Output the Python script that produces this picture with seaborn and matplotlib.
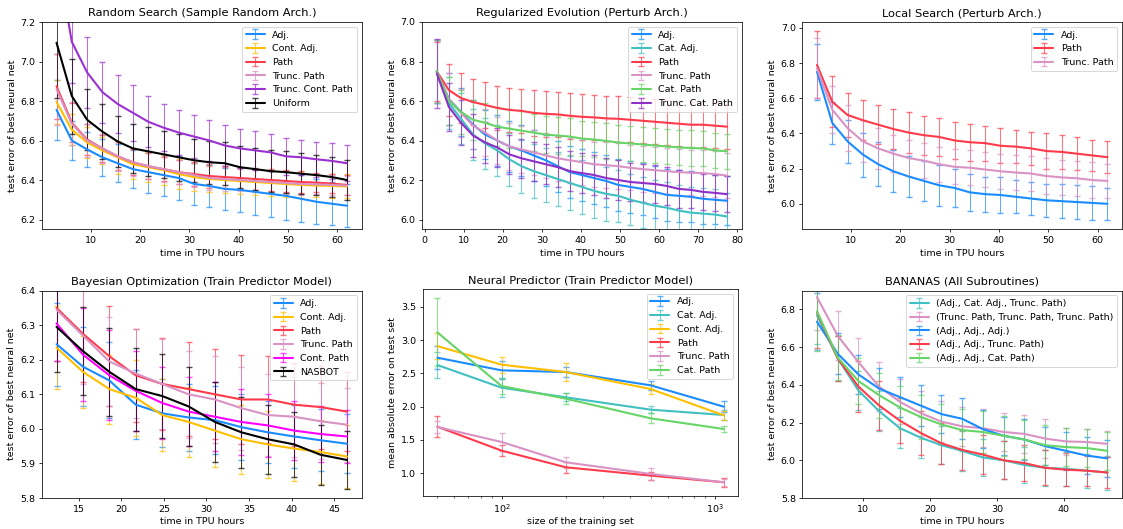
import matplotlib
matplotlib.use("Agg")
import matplotlib.pyplot as plt
import seaborn as sns

# time points (TPU hours)
x_rs = [3.1, 6.2, 9.3, 12.4, 15.5, 18.6, 21.7, 24.8, 27.9, 31.0,
        34.1, 37.2, 40.3, 43.4, 46.5, 49.6, 52.7, 55.8, 58.9, 62.0]
x_re = x_rs + [65.1, 68.2, 71.3, 74.4, 77.5]
x_bo = x_rs[3:15]
x_ban = x_rs[:15]
x_np = [50, 100, 200, 500, 1100]

# Random Search
rs_adj = [6.755, 6.60, 6.555, 6.515, 6.485, 6.455, 6.44, 6.425, 6.41, 6.38, 6.37, 6.355, 6.35, 6.34, 6.33, 6.32, 6.305, 6.29, 6.28, 6.27]
rs_adj_err = [0.15, 0.10, 0.09, 0.095, 0.095, 0.095, 0.105, 0.105, 0.11, 0.105, 0.105, 0.105, 0.11, 0.115, 0.115, 0.12, 0.12, 0.115, 0.11, 0.11]
rs_cadj = [6.795, 6.655, 6.59, 6.55, 6.515, 6.48, 6.465, 6.45, 6.43, 6.415, 6.405, 6.40, 6.395, 6.39, 6.385, 6.38, 6.375, 6.372, 6.37, 6.368]
rs_cadj_err = [0.11, 0.08, 0.08, 0.07, 0.085, 0.075, 0.075, 0.075, 0.075, 0.07, 0.065, 0.065, 0.065, 0.065, 0.065, 0.065, 0.065, 0.06, 0.06, 0.06]
rs_path = [6.875, 6.69, 6.605, 6.56, 6.52, 6.49, 6.47, 6.455, 6.44, 6.43, 6.42, 6.415, 6.41, 6.405, 6.40, 6.395, 6.39, 6.387, 6.382, 6.375]
rs_path_err = [0.165, 0.10, 0.08, 0.07, 0.07, 0.065, 0.065, 0.06, 0.06, 0.06, 0.06, 0.055, 0.055, 0.055, 0.055, 0.055, 0.055, 0.05, 0.05, 0.05]
rs_tpath = [6.86, 6.685, 6.60, 6.56, 6.52, 6.49, 6.47, 6.455, 6.44, 6.425, 6.41, 6.405, 6.40, 6.395, 6.39, 6.385, 6.38, 6.378, 6.375, 6.372]
rs_tpath_err = [0.18, 0.11, 0.085, 0.075, 0.075, 0.07, 0.065, 0.065, 0.06, 0.06, 0.06, 0.06, 0.055, 0.055, 0.055, 0.055, 0.055, 0.05, 0.05, 0.05]
rs_tcpath = [7.55, 7.10, 6.945, 6.845, 6.785, 6.74, 6.695, 6.665, 6.64, 6.62, 6.60, 6.575, 6.56, 6.55, 6.54, 6.52, 6.515, 6.505, 6.497, 6.485]
rs_tcpath_err = [0.3, 0.21, 0.18, 0.155, 0.145, 0.14, 0.13, 0.12, 0.115, 0.11, 0.105, 0.105, 0.10, 0.10, 0.095, 0.095, 0.09, 0.09, 0.09, 0.09]
rs_unif = [7.095, 6.825, 6.705, 6.645, 6.595, 6.56, 6.545, 6.53, 6.515, 6.50, 6.49, 6.485, 6.465, 6.455, 6.445, 6.44, 6.432, 6.425, 6.415, 6.40]
rs_unif_err = [0.28, 0.19, 0.155, 0.14, 0.13, 0.125, 0.125, 0.12, 0.12, 0.11, 0.11, 0.11, 0.105, 0.105, 0.105, 0.105, 0.105, 0.10, 0.10, 0.10]

# Regularized Evolution
re_adj = [6.75, 6.61, 6.545, 6.48, 6.43, 6.40, 6.37, 6.35, 6.325, 6.30, 6.27, 6.24, 6.225, 6.21, 6.195, 6.175, 6.165, 6.155, 6.14, 6.125, 6.12, 6.115, 6.105, 6.10, 6.095]
re_adj_err = [0.16, 0.13, 0.12, 0.125, 0.125, 0.13, 0.13, 0.13, 0.13, 0.13, 0.13, 0.13, 0.13, 0.13, 0.13, 0.13, 0.13, 0.13, 0.13, 0.13, 0.13, 0.13, 0.13, 0.125, 0.125]
re_cadj = [6.75, 6.59, 6.51, 6.43, 6.385, 6.35, 6.305, 6.27, 6.245, 6.225, 6.205, 6.185, 6.165, 6.145, 6.13, 6.12, 6.10, 6.085, 6.07, 6.06, 6.045, 6.035, 6.03, 6.025, 6.015]
re_cadj_err = [0.16, 0.13, 0.13, 0.13, 0.13, 0.13, 0.135, 0.135, 0.135, 0.135, 0.135, 0.135, 0.135, 0.135, 0.135, 0.13, 0.13, 0.13, 0.13, 0.13, 0.13, 0.13, 0.13, 0.13, 0.12]
re_path = [6.75, 6.655, 6.615, 6.595, 6.58, 6.565, 6.555, 6.55, 6.54, 6.535, 6.532, 6.525, 6.52, 6.517, 6.512, 6.51, 6.505, 6.50, 6.495, 6.49, 6.485, 6.48, 6.48, 6.475, 6.47]
re_path_err = [0.15, 0.13, 0.125, 0.115, 0.115, 0.11, 0.11, 0.112, 0.115, 0.115, 0.115, 0.115, 0.115, 0.115, 0.115, 0.115, 0.115, 0.115, 0.115, 0.115, 0.115, 0.115, 0.115, 0.115, 0.115]
re_tpath = [6.75, 6.61, 6.54, 6.475, 6.44, 6.40, 6.37, 6.355, 6.34, 6.325, 6.31, 6.30, 6.29, 6.28, 6.275, 6.27, 6.262, 6.255, 6.25, 6.245, 6.24, 6.237, 6.235, 6.23, 6.222]
re_tpath_err = [0.16, 0.13, 0.12, 0.12, 0.12, 0.12, 0.12, 0.12, 0.115, 0.115, 0.115, 0.115, 0.115, 0.115, 0.115, 0.115, 0.115, 0.115, 0.115, 0.115, 0.115, 0.115, 0.115, 0.115, 0.115]
re_cpath = [6.75, 6.60, 6.545, 6.505, 6.49, 6.47, 6.46, 6.45, 6.44, 6.43, 6.425, 6.42, 6.41, 6.405, 6.398, 6.39, 6.385, 6.38, 6.375, 6.37, 6.365, 6.362, 6.36, 6.35, 6.345]
re_cpath_err = [0.16, 0.12, 0.11, 0.1, 0.1, 0.1, 0.1, 0.1, 0.095, 0.095, 0.095, 0.095, 0.09, 0.09, 0.09, 0.09, 0.09, 0.09, 0.09, 0.09, 0.09, 0.09, 0.09, 0.09, 0.09]
re_tcpath = [6.74, 6.57, 6.49, 6.425, 6.39, 6.365, 6.33, 6.31, 6.295, 6.28, 6.265, 6.245, 6.235, 6.225, 6.21, 6.20, 6.19, 6.185, 6.18, 6.17, 6.155, 6.15, 6.14, 6.135, 6.128]
re_tcpath_err = [0.175, 0.12, 0.115, 0.11, 0.105, 0.1, 0.1, 0.1, 0.1, 0.1, 0.1, 0.1, 0.1, 0.1, 0.1, 0.1, 0.095, 0.095, 0.095, 0.095, 0.095, 0.09, 0.09, 0.09, 0.09]

# Local Search
ls_adj = [6.75, 6.46, 6.355, 6.28, 6.225, 6.185, 6.155, 6.13, 6.105, 6.09, 6.065, 6.055, 6.05, 6.04, 6.03, 6.02, 6.015, 6.01, 6.005, 6.0]
ls_adj_err = [0.16, 0.12, 0.123, 0.125, 0.125, 0.12, 0.118, 0.115, 0.115, 0.11, 0.105, 0.10, 0.10, 0.095, 0.095, 0.095, 0.095, 0.095, 0.095, 0.092]
ls_path = [6.79, 6.58, 6.505, 6.475, 6.45, 6.425, 6.405, 6.39, 6.38, 6.36, 6.35, 6.345, 6.33, 6.325, 6.315, 6.30, 6.295, 6.285, 6.275, 6.265]
ls_path_err = [0.19, 0.145, 0.125, 0.115, 0.11, 0.115, 0.115, 0.11, 0.11, 0.105, 0.105, 0.10, 0.10, 0.095, 0.095, 0.10, 0.095, 0.095, 0.09, 0.09]
ls_tpath = [6.77, 6.535, 6.43, 6.355, 6.315, 6.285, 6.26, 6.245, 6.225, 6.21, 6.205, 6.195, 6.185, 6.178, 6.172, 6.158, 6.15, 6.145, 6.135, 6.13]
ls_tpath_err = [0.17, 0.135, 0.13, 0.12, 0.115, 0.105, 0.1, 0.1, 0.1, 0.1, 0.1, 0.1, 0.1, 0.1, 0.1, 0.1, 0.1, 0.1, 0.1, 0.095]

# Bayesian Optimization
bo_adj = [6.245, 6.18, 6.14, 6.07, 6.045, 6.033, 6.025, 6.005, 5.99, 5.978, 5.967, 5.957]
bo_adj_err = [0.12, 0.115, 0.11, 0.1, 0.098, 0.098, 0.098, 0.095, 0.09, 0.09, 0.09, 0.085]
bo_cadj = [6.235, 6.165, 6.115, 6.09, 6.04, 6.02, 5.995, 5.97, 5.955, 5.943, 5.933, 5.92]
bo_cadj_err = [0.12, 0.105, 0.1, 0.11, 0.103, 0.1, 0.105, 0.1, 0.097, 0.095, 0.092, 0.09]
bo_path = [6.35, 6.275, 6.21, 6.155, 6.13, 6.115, 6.10, 6.085, 6.085, 6.07, 6.063, 6.05]
bo_path_err = [0.155, 0.14, 0.145, 0.135, 0.132, 0.135, 0.13, 0.13, 0.125, 0.12, 0.12, 0.115]
bo_tpath = [6.345, 6.27, 6.195, 6.16, 6.13, 6.10, 6.085, 6.06, 6.04, 6.035, 6.022, 6.012]
bo_tpath_err = [0.15, 0.14, 0.13, 0.13, 0.13, 0.125, 0.125, 0.12, 0.118, 0.115, 0.11, 0.107]
bo_cpath = [6.305, 6.215, 6.155, 6.11, 6.075, 6.05, 6.035, 6.02, 6.01, 5.995, 5.985, 5.978]
bo_cpath_err = [0.11, 0.135, 0.13, 0.115, 0.105, 0.1, 0.1, 0.095, 0.09, 0.085, 0.08, 0.077]
bo_nasbot = [6.295, 6.225, 6.165, 6.115, 6.095, 6.065, 6.02, 5.99, 5.97, 5.955, 5.925, 5.91]
bo_nasbot_err = [0.13, 0.127, 0.128, 0.12, 0.122, 0.115, 0.115, 0.103, 0.1, 0.095, 0.087, 0.083]

# Neural Predictor
np_adj = [2.735, 2.545, 2.52, 2.32, 2.0]
np_adj_err = [0.17, 0.135, 0.08, 0.065, 0.08]
np_cadj = [2.625, 2.285, 2.14, 1.955, 1.875]
np_cadj_err = [0.19, 0.14, 0.06, 0.05, 0.07]
np_contadj = [2.91, 2.63, 2.52, 2.265, 1.87]
np_contadj_err = [0.195, 0.12, 0.14, 0.075, 0.07]
np_path = [1.70, 1.34, 1.09, 0.965, 0.865]
np_path_err = [0.155, 0.08, 0.085, 0.06, 0.065]
np_tpath = [1.695, 1.47, 1.165, 0.99, 0.865]
np_tpath_err = [0.095, 0.135, 0.08, 0.09, 0.055]
np_cpath = [3.115, 2.31, 2.12, 1.825, 1.665]
np_cpath_err = [0.51, 0.12, 0.08, 0.075, 0.05]

# BANANAS
ban_cat = [6.77, 6.54, 6.37, 6.26, 6.17, 6.12, 6.08, 6.05, 6.015, 6.0, 5.975, 5.96, 5.955, 5.945, 5.935]
ban_cat_err = [0.155, 0.12, 0.105, 0.105, 0.105, 0.11, 0.1, 0.105, 0.1, 0.1, 0.095, 0.095, 0.09, 0.09, 0.09]
ban_tp = [6.865, 6.66, 6.52, 6.39, 6.31, 6.25, 6.205, 6.18, 6.17, 6.15, 6.14, 6.115, 6.10, 6.097, 6.087]
ban_tp_err = [0.175, 0.13, 0.13, 0.13, 0.12, 0.12, 0.11, 0.105, 0.1, 0.1, 0.1, 0.105, 0.07, 0.07, 0.07]
ban_adj = [6.735, 6.565, 6.455, 6.38, 6.335, 6.29, 6.245, 6.22, 6.165, 6.13, 6.11, 6.075, 6.05, 6.025, 6.01]
ban_adj_err = [0.15, 0.11, 0.105, 0.108, 0.105, 0.108, 0.1, 0.108, 0.1, 0.1, 0.11, 0.1, 0.1, 0.1, 0.1]
ban_atp = [6.785, 6.54, 6.39, 6.29, 6.21, 6.145, 6.09, 6.055, 6.03, 6.0, 5.985, 5.96, 5.95, 5.945, 5.935]
ban_atp_err = [0.19, 0.12, 0.135, 0.13, 0.118, 0.115, 0.11, 0.108, 0.105, 0.1, 0.095, 0.093, 0.088, 0.08, 0.08]
ban_acp = [6.79, 6.545, 6.42, 6.345, 6.28, 6.23, 6.19, 6.16, 6.15, 6.13, 6.11, 6.08, 6.07, 6.065, 6.05]
ban_acp_err = [0.21, 0.12, 0.12, 0.12, 0.115, 0.115, 0.11, 0.11, 0.11, 0.105, 0.105, 0.105, 0.1, 0.1, 0.1]

colors = {
    "adj": "#1a8cff",
    "cat_adj": "#40c0c0",
    "cont_adj": "#ffbf00",
    "path": "#ff3a4a",
    "trunc_path": "#d992c4",
    "tc_path": "#9b30d0",
    "tcat_path": "#8e2fc8",
    "cat_path": "#66d466",
    "cont_path": "#ff00ff",
    "black": "#000000",
}

sns.set_style("ticks", rc={"axes.edgecolor": "black", "xtick.color": "black",
                           "ytick.color": "black", "text.color": "black",
                           "axes.labelcolor": "black", "axes.linewidth": 0.8,
                           "xtick.major.size": 3.5, "ytick.major.size": 3.5,
                           "xtick.minor.size": 2, "ytick.minor.size": 2,
                           "xtick.major.width": 0.8, "ytick.major.width": 0.8})
plt.rcParams["font.family"] = ["DejaVu Sans"]
plt.rcParams["font.size"] = 10


def draw(ax, x, y, err, color, label):
    eb = ax.errorbar(x, y, yerr=err, color=color, label=label,
                     linewidth=2.2, elinewidth=1.1, capsize=3, capthick=1.5)
    for art in eb[1]:
        art.set_alpha(0.7)
    for art in eb[2]:
        art.set_alpha(0.7)


fig, axes = plt.subplots(2, 3, figsize=(1123 / 68, 529 / 68), dpi=68)
fig.subplots_adjust(left=42 / 1123, right=1122 / 1123, bottom=31 / 529,
                    top=507 / 529, wspace=0.19, hspace=0.295)
# the log panel sits a little higher in the original
axes[1, 1].set_position([423 / 1123, 33 / 529, 315 / 1123, 207 / 529])

ax = axes[0, 0]
draw(ax, x_rs, rs_adj, rs_adj_err, colors["adj"], "Adj.")
draw(ax, x_rs, rs_cadj, rs_cadj_err, colors["cont_adj"], "Cont. Adj.")
draw(ax, x_rs, rs_path, rs_path_err, colors["path"], "Path")
draw(ax, x_rs, rs_tpath, rs_tpath_err, colors["trunc_path"], "Trunc. Path")
draw(ax, x_rs, rs_tcpath, rs_tcpath_err, colors["tc_path"], "Trunc. Cont. Path")
draw(ax, x_rs, rs_unif, rs_unif_err, colors["black"], "Uniform")
ax.set_ylim(6.15, 7.2)
ax.set_title("Random Search (Sample Random Arch.)")
ax.set_xlabel("time in TPU hours")
ax.set_ylabel("test error of best neural net")
ax.legend(loc="upper right")

ax = axes[0, 1]
draw(ax, x_re, re_adj, re_adj_err, colors["adj"], "Adj.")
draw(ax, x_re, re_cadj, re_cadj_err, colors["cat_adj"], "Cat. Adj.")
draw(ax, x_re, re_path, re_path_err, colors["path"], "Path")
draw(ax, x_re, re_tpath, re_tpath_err, colors["trunc_path"], "Trunc. Path")
draw(ax, x_re, re_cpath, re_cpath_err, colors["cat_path"], "Cat. Path")
draw(ax, x_re, re_tcpath, re_tcpath_err, colors["tcat_path"], "Trunc. Cat. Path")
ax.set_ylim(5.95, 7.0)
ax.set_title("Regularized Evolution (Perturb Arch.)")
ax.set_xlabel("time in TPU hours")
ax.set_ylabel("test error of best neural net")
ax.legend(loc="upper right")

ax = axes[0, 2]
draw(ax, x_rs, ls_adj, ls_adj_err, colors["adj"], "Adj.")
draw(ax, x_rs, ls_path, ls_path_err, colors["path"], "Path")
draw(ax, x_rs, ls_tpath, ls_tpath_err, colors["trunc_path"], "Trunc. Path")
ax.set_title("Local Search (Perturb Arch.)")
ax.set_xlabel("time in TPU hours")
ax.set_ylabel("test error of best neural net")
ax.legend(loc="upper right")

ax = axes[1, 0]
draw(ax, x_bo, bo_adj, bo_adj_err, colors["adj"], "Adj.")
draw(ax, x_bo, bo_cadj, bo_cadj_err, colors["cont_adj"], "Cont. Adj.")
draw(ax, x_bo, bo_path, bo_path_err, colors["path"], "Path")
draw(ax, x_bo, bo_tpath, bo_tpath_err, colors["trunc_path"], "Trunc. Path")
draw(ax, x_bo, bo_cpath, bo_cpath_err, colors["cont_path"], "Cont. Path")
draw(ax, x_bo, bo_nasbot, bo_nasbot_err, colors["black"], "NASBOT")
ax.set_ylim(5.8, 6.4)
ax.set_title("Bayesian Optimization (Train Predictor Model)")
ax.set_xlabel("time in TPU hours")
ax.set_ylabel("test error of best neural net")
ax.legend(loc="upper right")

ax = axes[1, 1]
draw(ax, x_np, np_adj, np_adj_err, colors["adj"], "Adj.")
draw(ax, x_np, np_cadj, np_cadj_err, colors["cat_adj"], "Cat. Adj.")
draw(ax, x_np, np_contadj, np_contadj_err, colors["cont_adj"], "Cont. Adj.")
draw(ax, x_np, np_path, np_path_err, colors["path"], "Path")
draw(ax, x_np, np_tpath, np_tpath_err, colors["trunc_path"], "Trunc. Path")
draw(ax, x_np, np_cpath, np_cpath_err, colors["cat_path"], "Cat. Path")
ax.set_xscale("log")
ax.set_title("Neural Predictor (Train Predictor Model)")
ax.set_xlabel("size of the training set", labelpad=2)
ax.set_ylabel("mean absolute error on test set")
ax.legend(loc="upper right")

ax = axes[1, 2]
draw(ax, x_ban, ban_cat, ban_cat_err, colors["cat_adj"], "(Adj., Cat. Adj., Trunc. Path)")
draw(ax, x_ban, ban_tp, ban_tp_err, colors["trunc_path"], "(Trunc. Path, Trunc. Path, Trunc. Path)")
draw(ax, x_ban, ban_adj, ban_adj_err, colors["adj"], "(Adj., Adj., Adj.)")
draw(ax, x_ban, ban_atp, ban_atp_err, colors["path"], "(Adj., Adj., Trunc. Path)")
draw(ax, x_ban, ban_acp, ban_acp_err, colors["cat_path"], "(Adj., Adj., Cat. Path)")
ax.set_ylim(5.8, 6.9)
ax.set_title("BANANAS (All Subroutines)")
ax.set_xlabel("time in TPU hours")
ax.set_ylabel("test error of best neural net")
ax.legend(loc="upper right")

fig.savefig("out.png", dpi=68)
